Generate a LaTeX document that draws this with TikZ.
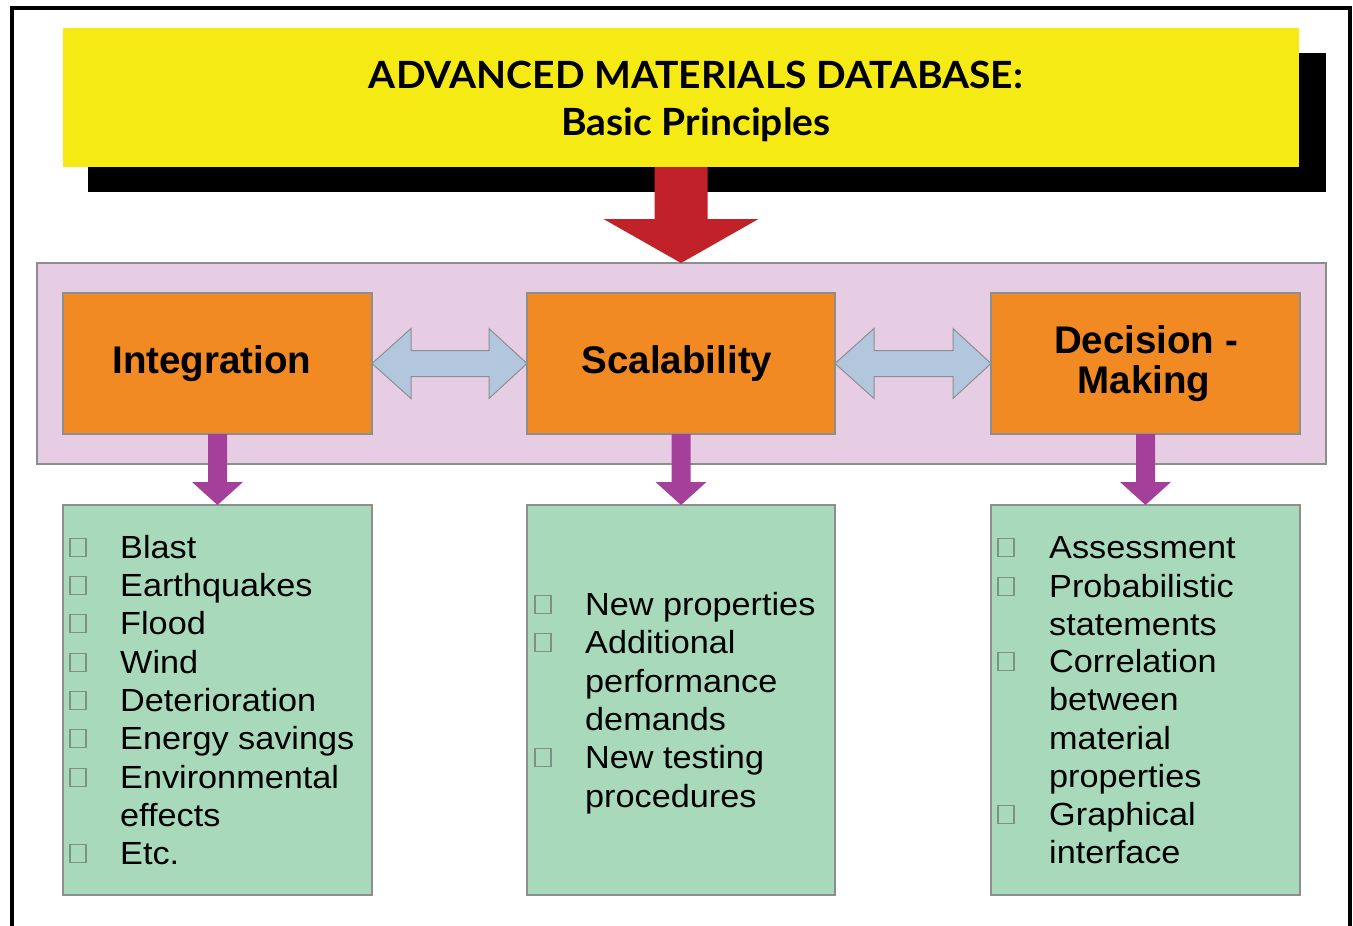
\documentclass[tikz,border=0pt]{standalone}
\usepackage{fontspec}
\setmainfont{Liberation Sans}
\newfontfamily\listfont[FakeStretch=1.07]{Liberation Sans}
\newfontfamily\titlefont[FakeStretch=1.04]{Lato}
\usetikzlibrary{calc}
\definecolor{ttlyellow}{HTML}{F5EA14}
\definecolor{arrred}{HTML}{C1222A}
\definecolor{bandpink}{HTML}{E6CDE4}
\definecolor{boxorange}{HTML}{F28A24}
\definecolor{arrblue}{HTML}{B2C6DE}
\definecolor{arrpurple}{HTML}{A5409A}
\definecolor{boxgreen}{HTML}{A8D9BB}
\definecolor{edgegray}{HTML}{8E8E8E}
\definecolor{chkgray}{HTML}{7F9184}
\tikzset{
  panel/.style={anchor=north west, inner sep=0pt, outer sep=0pt, draw=edgegray, line width=1.2pt},
  ttlbox/.style={panel, fill=ttlyellow, draw=none},
  bandbox/.style={panel, fill=bandpink},
  headbox/.style={panel, fill=boxorange},
  listbox/.style={panel, fill=boxgreen},
  headtxt/.style={inner sep=0pt, anchor=base, font=\fontsize{38.5}{44}\selectfont\bfseries},
  ttltxt/.style={inner sep=0pt, anchor=base, font=\titlefont\fontsize{37.5}{44}\selectfont\bfseries},
  listtxt/.style={inner sep=0pt, anchor=base west, font=\listfont\fontsize{32}{38}\selectfont},
  chk/.style={draw=chkgray, line width=1.5pt, minimum width=16pt, minimum height=18pt, inner sep=0pt},
  blockarrow/.style={draw=edgegray, line width=1pt},
}
\newcommand\litem[4]{\node[listtxt] (#1) at (#2,#3) {#4};}
\newcommand\lchk[3]{\node[chk] (#1) at (#2,#3-10.5) {};}
\newcommand\dblarrow[2]{%
  \path[blockarrow, fill=arrblue] let \p1=(#1.east), \p2=(#2.west) in
    (\x1,\y1) -- (\x1+39pt,\y1+35pt) -- (\x1+39pt,\y1+13pt) -- (\x2-38pt,\y1+13pt)
    -- (\x2-38pt,\y1+35pt) -- (\x2,\y1) -- (\x2-38pt,\y1-35pt) -- (\x2-38pt,\y1-13pt)
    -- (\x1+39pt,\y1-13pt) -- (\x1+39pt,\y1-35pt) -- cycle;}
\newcommand\purplearrow[2]{%
  \path[fill=arrpurple] let \p1=(#1.south), \p2=(#2.north) in
    (\x1-9.5pt,\y1) -- (\x1+9.5pt,\y1) -- (\x1+9.5pt,\y2+23pt) -- (\x1+25.5pt,\y2+23pt)
    -- (\x1,\y2) -- (\x1-25.5pt,\y2+23pt) -- (\x1-9.5pt,\y2+23pt) -- cycle;}
\begin{document}
\begin{tikzpicture}[x=1pt,y=-1pt]
\useasboundingbox (0,0) rectangle (1353,926);
% outer frame (open at bottom)
\draw[line width=4pt, line join=miter] (12,926) -- (12,8) -- (1350,8) -- (1350,926);
% title with shadow
\fill[black] (88,53) rectangle (1326,192);
\node[ttlbox, minimum width=1236pt, minimum height=139pt] (title) at (63,28) {};
\node[ttltxt] (t1) at (696,88) {ADVANCED MATERIALS DATABASE:};
\node[ttltxt] (t2) at (696,135) {Basic Principles};
% band
\node[bandbox, minimum width=1289pt, minimum height=201pt] (band) at (37,263) {};
% red arrow
\path[fill=arrred] let \p1=(title.south), \p2=(band.north) in
  (\x1-26.5pt,\y1) -- (\x1+26.5pt,\y1) -- (\x1+26.5pt,\y2+44pt) -- (\x1+77.5pt,\y2+44pt)
  -- (\x1,\y2) -- (\x1-77.5pt,\y2+44pt) -- (\x1-26.5pt,\y2+44pt) -- cycle;
% orange boxes
\node[headbox, minimum width=309pt, minimum height=141pt] (integ) at (63,293) {};
\node[headbox, minimum width=308pt, minimum height=141pt] (scal) at (527,293) {};
\node[headbox, minimum width=309pt, minimum height=141pt] (decis) at (991,293) {};
\node[headtxt] (h1) at (212,373) {Integration};
\node[headtxt] (h2) at (677,373) {Scalability};
\node[headtxt] (h3a) at (1146,353) {Decision -};
\node[headtxt] (h3b) at (1144,393) {Making};
% double arrows
\dblarrow{integ}{scal}
\dblarrow{scal}{decis}
% green boxes
\node[listbox, minimum width=309pt, minimum height=390pt] (lst1) at (63,505) {};
\node[listbox, minimum width=308pt, minimum height=390pt] (lst2) at (527,505) {};
\node[listbox, minimum width=309pt, minimum height=390pt] (lst3) at (991,505) {};
% purple arrows
\purplearrow{integ}{lst1}
\purplearrow{scal}{lst2}
\purplearrow{decis}{lst3}
% list 1
\lchk{c11}{78}{558}\litem{a11}{120}{558}{Blast}
\lchk{c12}{78}{596}\litem{a12}{120}{596}{Earthquakes}
\lchk{c13}{78}{634}\litem{a13}{120}{634}{Flood}
\lchk{c14}{78}{673}\litem{a14}{120}{673}{Wind}
\lchk{c15}{78}{711}\litem{a15}{120}{711}{Deterioration}
\lchk{c16}{78}{749}\litem{a16}{120}{749}{Energy savings}
\lchk{c17}{78}{788}\litem{a17}{120}{788}{Environmental}
\litem{a18}{120}{826}{effects}
\lchk{c19}{78}{864}\litem{a19}{120}{864}{Etc.}
% list 2
\lchk{c21}{543}{615}\litem{a21}{585}{615}{New properties}
\lchk{c22}{543}{653}\litem{a22}{585}{653}{Additional}
\litem{a23}{585}{692}{performance}
\litem{a24}{585}{730}{demands}
\lchk{c25}{543}{768}\litem{a25}{585}{768}{New testing}
\litem{a26}{585}{807}{procedures}
% list 3
\lchk{c31}{1006}{558}\litem{a31}{1049}{558}{Assessment}
\lchk{c32}{1006}{597}\litem{a32}{1049}{597}{Probabilistic}
\litem{a33}{1049}{635}{statements}
\lchk{c34}{1006}{672}\litem{a34}{1049}{672}{Correlation}
\litem{a35}{1049}{710}{between}
\litem{a36}{1049}{749}{material}
\litem{a37}{1049}{787}{properties}
\lchk{c38}{1006}{825}\litem{a38}{1049}{825}{Graphical}
\litem{a39}{1049}{863}{interface}
\end{tikzpicture}
\end{document}
